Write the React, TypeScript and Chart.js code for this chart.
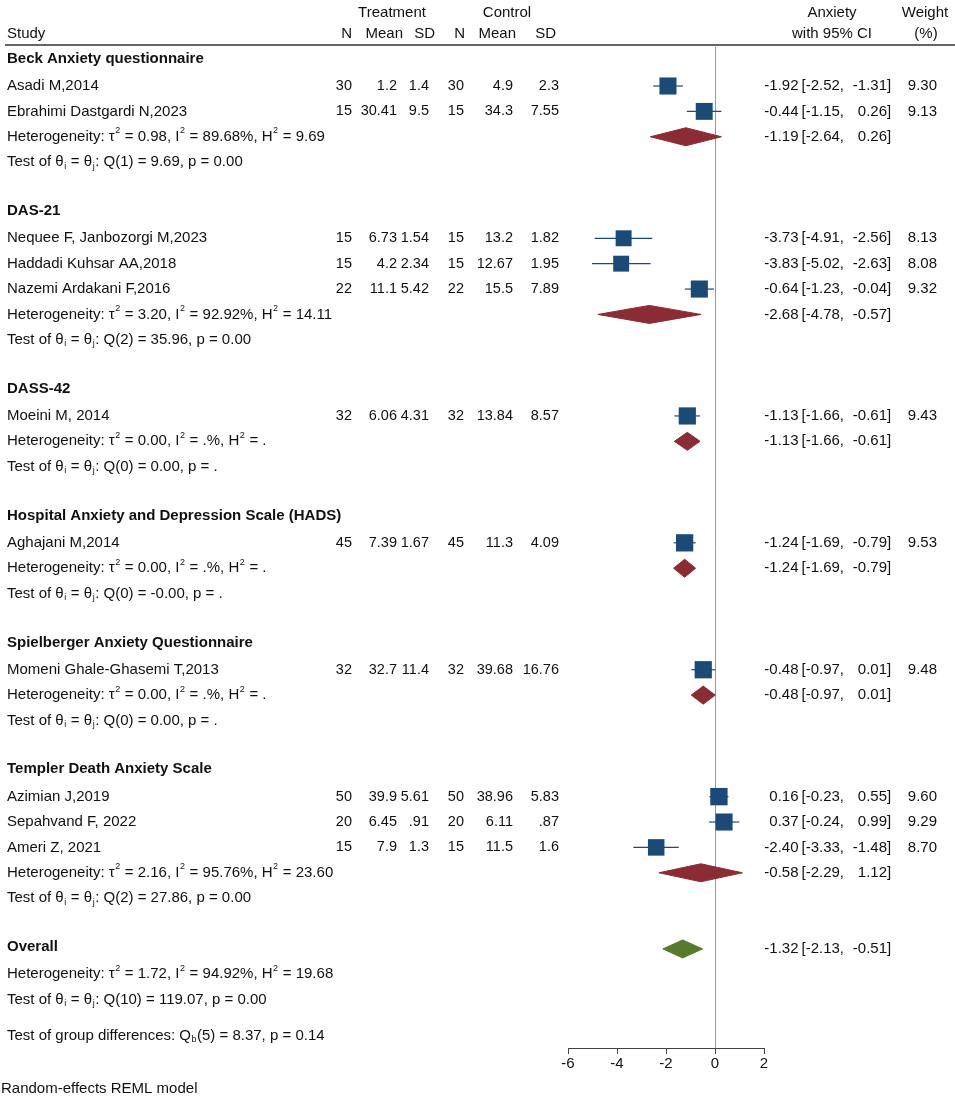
import React, { useEffect, useRef } from "react";
import { Chart, registerables } from "chart.js";

Chart.register(...registerables);

// ---------------- DATA ----------------
const groupNames = [
  "Beck Anxiety questionnaire",
  "DAS-21",
  "DASS-42",
  "Hospital Anxiety and Depression Scale (HADS)",
  "Spielberger Anxiety Questionnaire",
  "Templer Death Anxiety Scale",
];

const studyLabels = [
  "Asadi M,2014",
  "Ebrahimi Dastgardi N,2023",
  "Nequee F, Janbozorgi M,2023",
  "Haddadi Kuhsar AA,2018",
  "Nazemi Ardakani F,2016",
  "Moeini M, 2014",
  "Aghajani M,2014",
  "Momeni Ghale-Ghasemi T,2013",
  "Azimian J,2019",
  "Sepahvand F, 2022",
  "Ameri Z, 2021",
];
const studyGroup = [0, 0, 1, 1, 1, 2, 3, 4, 5, 5, 5];

const treatN = ["30", "15", "15", "15", "22", "32", "45", "32", "50", "20", "15"];
const treatMean = ["1.2", "30.41", "6.73", "4.2", "11.1", "6.06", "7.39", "32.7", "39.9", "6.45", "7.9"];
const treatSD = ["1.4", "9.5", "1.54", "2.34", "5.42", "4.31", "1.67", "11.4", "5.61", ".91", "1.3"];
const ctrlN = ["30", "15", "15", "15", "22", "32", "45", "32", "50", "20", "15"];
const ctrlMean = ["4.9", "34.3", "13.2", "12.67", "15.5", "13.84", "11.3", "39.68", "38.96", "6.11", "11.5"];
const ctrlSD = ["2.3", "7.55", "1.82", "1.95", "7.89", "8.57", "4.09", "16.76", "5.83", ".87", "1.6"];

const effect = [-1.92, -0.44, -3.73, -3.83, -0.64, -1.13, -1.24, -0.48, 0.16, 0.37, -2.4];
const lower = [-2.52, -1.15, -4.91, -5.02, -1.23, -1.66, -1.69, -0.97, -0.23, -0.24, -3.33];
const upper = [-1.31, 0.26, -2.56, -2.63, -0.04, -0.61, -0.79, 0.01, 0.55, 0.99, -1.48];
const weight = [9.3, 9.13, 8.13, 8.08, 9.32, 9.43, 9.53, 9.48, 9.6, 9.29, 8.7];

const groupEffect = [-1.19, -2.68, -1.13, -1.24, -0.48, -0.58];
const groupLower = [-2.64, -4.78, -1.66, -1.69, -0.97, -2.29];
const groupUpper = [0.26, -0.57, -0.61, -0.79, 0.01, 1.12];
const groupHet = [
  "τ^2 = 0.98, I^2 = 89.68%, H^2 = 9.69",
  "τ^2 = 3.20, I^2 = 92.92%, H^2 = 14.11",
  "τ^2 = 0.00, I^2 = .%, H^2 = .",
  "τ^2 = 0.00, I^2 = .%, H^2 = .",
  "τ^2 = 0.00, I^2 = .%, H^2 = .",
  "τ^2 = 2.16, I^2 = 95.76%, H^2 = 23.60",
];
const groupTest = [
  "Q(1) = 9.69, p = 0.00",
  "Q(2) = 35.96, p = 0.00",
  "Q(0) = 0.00, p = .",
  "Q(0) = -0.00, p = .",
  "Q(0) = 0.00, p = .",
  "Q(2) = 27.86, p = 0.00",
];

const overallEffect = [-1.32];
const overallLower = [-2.13];
const overallUpper = [-0.51];
const overallHet = "τ^2 = 1.72, I^2 = 94.92%, H^2 = 19.68";
const overallTest = "Q(10) = 119.07, p = 0.00";
const groupDiffTest = "Q_b(5) = 8.37, p = 0.14";
const modelNote = "Random-effects REML model";

const xTicks = [-6, -4, -2, 0, 2];

// ---------------- STYLE ----------------
const FONT = '"Liberation Sans", Arial, Helvetica, sans-serif';
const FS = 15;
const NUMFS = 14.5;
const NAVY = "#1c4a77";
const RED = "#8b2c34";
const GREEN = "#587a2c";
const TXT = "#111111";

type Row =
  | { kind: "header"; r: number; g: number }
  | { kind: "study"; r: number; i: number }
  | { kind: "het"; r: number; g: number }
  | { kind: "test"; r: number; g: number };

function buildRows() {
  const rows: Row[] = [];
  let r = 0;
  groupNames.forEach((_, g) => {
    rows.push({ kind: "header", r, g });
    r++;
    studyGroup.forEach((sg, i) => {
      if (sg === g) {
        rows.push({ kind: "study", r, i });
        r++;
      }
    });
    rows.push({ kind: "het", r, g });
    r++;
    rows.push({ kind: "test", r, g });
    r++;
    r++;
  });
  return { rows, overallRow: r };
}

const fmt = (v: number) => v.toFixed(2);

function drawRich(ctx: CanvasRenderingContext2D, x: number, y: number, s: string, bold = false) {
  const base = `${bold ? "bold " : ""}${FS}px ${FONT}`;
  const small = `${Math.round(FS * 0.6)}px ${FONT}`;
  let cx = x;
  let buf = "";
  const flush = () => {
    if (!buf) return;
    ctx.font = base;
    ctx.fillText(buf, cx, y);
    cx += ctx.measureText(buf).width;
    buf = "";
  };
  for (let k = 0; k < s.length; k++) {
    const ch = s[k];
    if ((ch === "^" || ch === "_") && k + 1 < s.length) {
      flush();
      const c = s[k + 1];
      ctx.font = small;
      const dy = ch === "^" ? -FS * 0.4 : FS * 0.28;
      ctx.fillText(c, cx + 0.5, y + dy);
      cx += ctx.measureText(c).width + 1;
      k++;
    } else {
      buf += ch;
    }
  }
  flush();
}

function drawCI(ctx: CanvasRenderingContext2D, y: number, e: number, lo: number, hi: number) {
  ctx.font = `${FS}px ${FONT}`;
  ctx.textAlign = "right";
  ctx.fillText(fmt(e), 798.5, y);
  ctx.textAlign = "left";
  ctx.fillText("[" + fmt(lo) + ",", 801.5, y);
  ctx.textAlign = "right";
  ctx.fillText(fmt(hi), 887, y);
  ctx.textAlign = "left";
  ctx.fillText("]", 887, y);
}

export default function App() {
  const ref = useRef<HTMLCanvasElement | null>(null);

  useEffect(() => {
    document.body.style.margin = "0";
    const canvas = ref.current;
    if (!canvas) return;
    const { rows, overallRow } = buildRows();

    const studyRow: number[] = [];
    const groupRow: number[] = [];
    rows.forEach((row) => {
      if (row.kind === "study") studyRow[row.i] = row.r;
      if (row.kind === "het") groupRow[row.g] = row.r;
    });

    const H = 0.355; // diamond half height in rows

    const datasets: any[] = [];
    datasets.push({
      data: effect.map((e, i) => ({ x: e, y: studyRow[i] })),
      pointStyle: "rect",
      pointRadius: weight.map((w) => (5.6 * Math.sqrt(w)) / Math.SQRT2),
      pointBackgroundColor: NAVY,
      pointBorderColor: NAVY,
      pointBorderWidth: 0,
      showLine: false,
      order: 0,
    });
    effect.forEach((_, i) => {
      datasets.push({
        data: [
          { x: lower[i], y: studyRow[i] },
          { x: upper[i], y: studyRow[i] },
        ],
        showLine: true,
        borderColor: NAVY,
        borderWidth: 1.2,
        pointRadius: 0,
        order: 1,
      });
    });
    const diamond = (e: number, lo: number, hi: number, r: number, color: string) => ({
      data: [
        { x: lo, y: r },
        { x: e, y: r - H },
        { x: hi, y: r },
        { x: e, y: r + H },
        { x: lo, y: r },
      ],
      showLine: true,
      fill: "shape",
      backgroundColor: color,
      borderColor: color,
      borderWidth: 1,
      pointRadius: 0,
      tension: 0,
      order: 0,
    });
    groupEffect.forEach((e, g) => {
      datasets.push(diamond(e, groupLower[g], groupUpper[g], groupRow[g], RED));
    });
    datasets.push(diamond(overallEffect[0], overallLower[0], overallUpper[0], overallRow, GREEN));

    const textPlugin = {
      id: "forestText",
      afterDraw(chart: any) {
        const ctx: CanvasRenderingContext2D = chart.ctx;
        const ys = chart.scales.y;
        const Y = (r: number) => ys.getPixelForValue(r);
        ctx.save();
        ctx.fillStyle = TXT;
        ctx.textBaseline = "middle";

        ctx.font = `${FS}px ${FONT}`;
        ctx.textAlign = "center";
        ctx.fillText("Treatment", 392, 12.5);
        ctx.fillText("Control", 507, 12.5);
        ctx.fillText("Anxiety", 832, 12.5);
        ctx.fillText("Weight", 925, 12.5);
        ctx.fillText("with 95% CI", 832, 33.5);
        ctx.fillText("(%)", 926, 33.5);
        ctx.textAlign = "left";
        ctx.fillText("Study", 7, 33.5);
        ctx.textAlign = "right";
        ctx.fillText("N", 352, 33.5);
        ctx.fillText("Mean", 403, 33.5);
        ctx.fillText("SD", 435, 33.5);
        ctx.fillText("N", 465, 33.5);
        ctx.fillText("Mean", 516, 33.5);
        ctx.fillText("SD", 556, 33.5);

        ctx.strokeStyle = "#333333";
        ctx.lineWidth = 1.6;
        ctx.beginPath();
        ctx.moveTo(5, 45);
        ctx.lineTo(955, 45);
        ctx.stroke();

        rows.forEach((row) => {
          const y = Y(row.r);
          ctx.textAlign = "left";
          if (row.kind === "header") {
            drawRich(ctx, 7, y - 2, groupNames[row.g], true);
          } else if (row.kind === "study") {
            const i = row.i;
            drawRich(ctx, 7, y, studyLabels[i]);
            ctx.font = `${NUMFS}px ${FONT}`;
            ctx.textAlign = "right";
            ctx.fillText(treatN[i], 352, y);
            ctx.fillText(treatMean[i], 397, y);
            ctx.fillText(treatSD[i], 429, y);
            ctx.fillText(ctrlN[i], 464, y);
            ctx.fillText(ctrlMean[i], 513, y);
            ctx.fillText(ctrlSD[i], 559, y);
            drawCI(ctx, y, effect[i], lower[i], upper[i]);
            ctx.textAlign = "right";
            ctx.fillText(weight[i].toFixed(2), 937, y);
          } else if (row.kind === "het") {
            drawRich(ctx, 7, y, "Heterogeneity: " + groupHet[row.g]);
            drawCI(ctx, y, groupEffect[row.g], groupLower[row.g], groupUpper[row.g]);
          } else {
            drawRich(ctx, 7, y, "Test of θ_i = θ_j: " + groupTest[row.g]);
          }
        });

        const yo = Y(overallRow);
        ctx.textAlign = "left";
        drawRich(ctx, 7, yo - 2, "Overall", true);
        drawCI(ctx, yo, overallEffect[0], overallLower[0], overallUpper[0]);
        ctx.textAlign = "left";
        drawRich(ctx, 7, Y(overallRow + 1), "Heterogeneity: " + overallHet);
        drawRich(ctx, 7, Y(overallRow + 2), "Test of θ_i = θ_j: " + overallTest);
        drawRich(ctx, 7, Y(overallRow + 3.42), "Test of group differences: " + groupDiffTest);
        drawRich(ctx, 1, Y(overallRow + 5.52), modelNote);
        ctx.restore();
      },
    };

    const chart = new Chart(canvas, {
      type: "scatter",
      data: { datasets },
      options: {
        responsive: false,
        devicePixelRatio: 1,
        animation: false,
        events: [],
        layout: { padding: { left: 568, right: 191, top: 47, bottom: 26 } },
        plugins: {
          legend: { display: false },
          tooltip: { enabled: false },
          filler: { propagate: false },
        },
        scales: {
          x: {
            type: "linear",
            min: -6,
            max: 2,
            afterBuildTicks: (scale: any) => {
              scale.ticks = xTicks.map((v) => ({ value: v }));
            },
            afterFit: (scale: any) => {
              scale.height = 26;
            },
            grid: {
              display: true,
              drawOnChartArea: true,
              drawTicks: true,
              tickLength: 6,
              color: (c: any) => (c.tick && c.tick.value === 0 ? "#9a9a9a" : "rgba(0,0,0,0)"),
              tickColor: "#444444",
              lineWidth: 1,
            },
            border: { display: true, color: "#444444", width: 1 },
            ticks: {
              color: TXT,
              padding: 1,
              font: { family: FONT, size: FS },
              maxRotation: 0,
              autoSkip: false,
            },
          },
          y: {
            type: "linear",
            display: false,
            reverse: true,
            min: -0.537,
            max: 38.904,
          },
        },
      },
      plugins: [textPlugin],
    });

    return () => chart.destroy();
  }, []);

  return <canvas ref={ref} width={955} height={1100} style={{ display: "block" }} />;
}
